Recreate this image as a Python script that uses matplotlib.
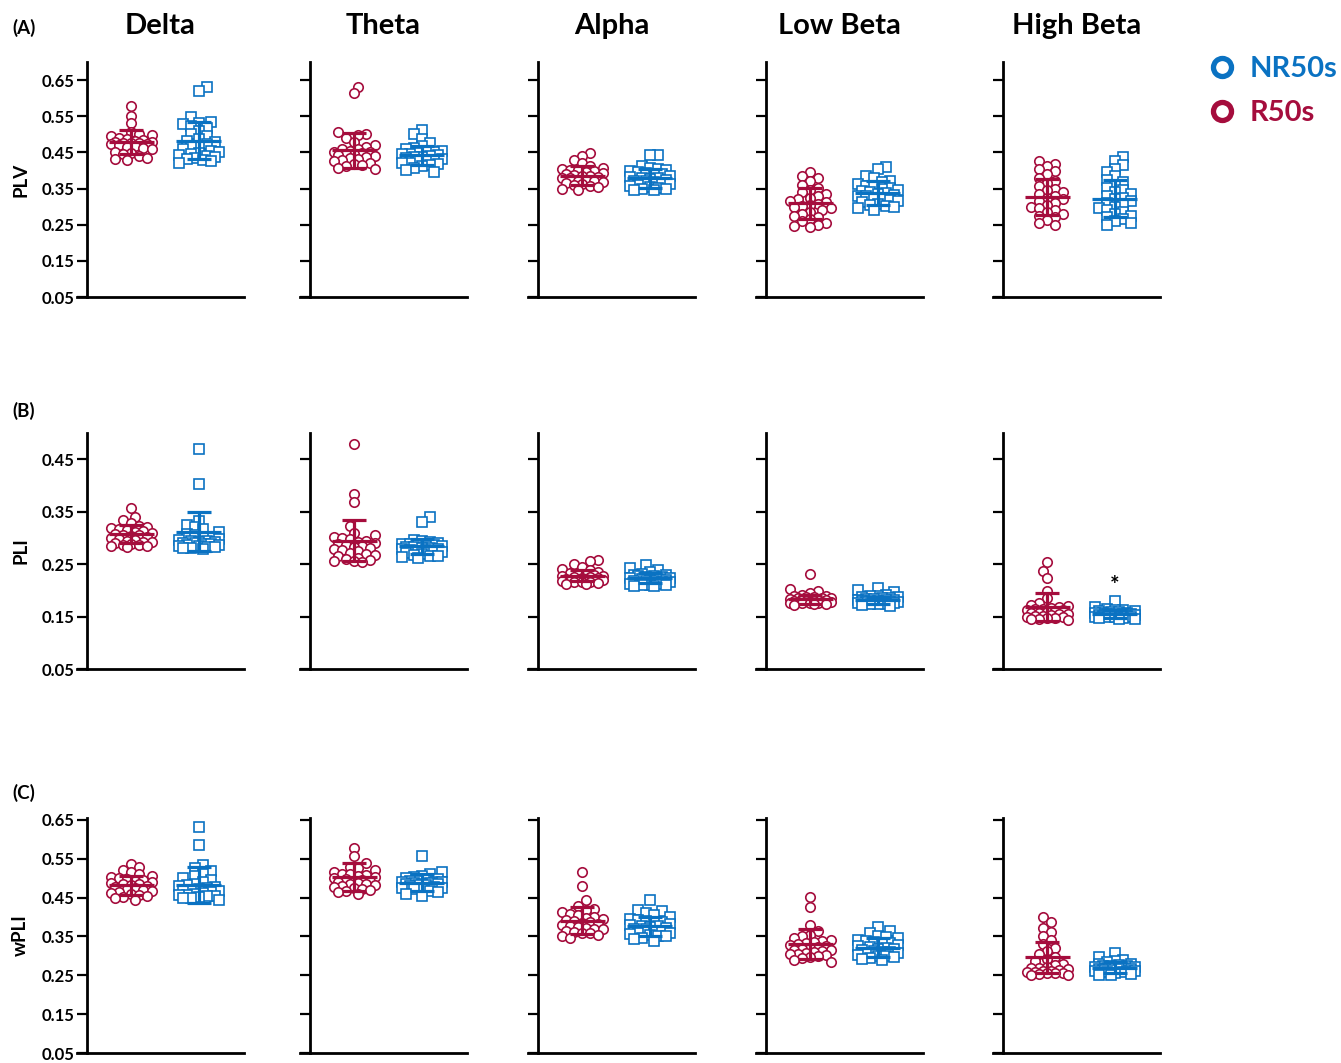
import numpy as np
import matplotlib.pyplot as plt

plt.rcParams['font.family'] = ['Lato', 'DejaVu Sans']
plt.rcParams['font.weight'] = 'bold'

bands = ["Delta", "Theta", "Alpha", "Low Beta", "High Beta"]
metrics = ["PLV", "PLI", "wPLI"]
panel_tags = ["(A)", "(B)", "(C)"]
groups = ["NR50s", "R50s"]

# ---- values (one list per band) ----
plv_r50s = [
    [0.578, 0.552, 0.530, 0.505, 0.500, 0.498, 0.495, 0.490, 0.488, 0.485, 0.482, 0.480, 0.478, 0.477, 0.476,
     0.475, 0.474, 0.472, 0.470, 0.468, 0.465, 0.462, 0.458, 0.452, 0.448, 0.445, 0.440, 0.435, 0.432, 0.430],
    [0.631, 0.613, 0.505, 0.502, 0.498, 0.490, 0.480, 0.470, 0.465, 0.460, 0.458, 0.455, 0.452, 0.450, 0.448,
     0.445, 0.445, 0.442, 0.440, 0.438, 0.435, 0.432, 0.428, 0.425, 0.420, 0.418, 0.415, 0.412, 0.408, 0.405],
    [0.449, 0.440, 0.428, 0.420, 0.412, 0.408, 0.405, 0.402, 0.400, 0.398, 0.395, 0.392, 0.390, 0.388, 0.386,
     0.385, 0.383, 0.380, 0.378, 0.375, 0.372, 0.370, 0.368, 0.365, 0.362, 0.360, 0.358, 0.355, 0.350, 0.346],
    [0.396, 0.385, 0.378, 0.370, 0.360, 0.352, 0.345, 0.340, 0.335, 0.330, 0.325, 0.320, 0.316, 0.312, 0.308,
     0.305, 0.302, 0.298, 0.295, 0.290, 0.285, 0.280, 0.275, 0.270, 0.265, 0.260, 0.255, 0.250, 0.246, 0.244],
    [0.427, 0.418, 0.412, 0.405, 0.398, 0.390, 0.380, 0.372, 0.365, 0.358, 0.350, 0.345, 0.340, 0.335, 0.330,
     0.325, 0.320, 0.315, 0.310, 0.305, 0.300, 0.295, 0.290, 0.285, 0.280, 0.275, 0.270, 0.262, 0.255, 0.248],
]
plv_nr50s = [
    [0.632, 0.620, 0.548, 0.535, 0.532, 0.528, 0.522, 0.518, 0.510, 0.502, 0.495, 0.488, 0.482, 0.478, 0.472,
     0.468, 0.465, 0.460, 0.455, 0.452, 0.448, 0.445, 0.442, 0.440, 0.438, 0.435, 0.432, 0.428, 0.425, 0.420],
    [0.513, 0.500, 0.488, 0.475, 0.468, 0.462, 0.458, 0.455, 0.452, 0.450, 0.448, 0.446, 0.445, 0.443, 0.440,
     0.438, 0.436, 0.434, 0.432, 0.430, 0.428, 0.425, 0.422, 0.420, 0.418, 0.415, 0.412, 0.408, 0.402, 0.396],
    [0.443, 0.442, 0.412, 0.408, 0.405, 0.400, 0.398, 0.395, 0.392, 0.390, 0.388, 0.385, 0.382, 0.380, 0.378,
     0.376, 0.374, 0.372, 0.370, 0.368, 0.365, 0.362, 0.360, 0.358, 0.355, 0.352, 0.350, 0.348, 0.346, 0.345],
    [0.410, 0.405, 0.385, 0.380, 0.372, 0.368, 0.362, 0.358, 0.355, 0.352, 0.348, 0.345, 0.342, 0.340, 0.338,
     0.335, 0.332, 0.330, 0.328, 0.325, 0.322, 0.318, 0.315, 0.312, 0.308, 0.305, 0.302, 0.300, 0.296, 0.292],
    [0.437, 0.425, 0.415, 0.405, 0.395, 0.385, 0.375, 0.368, 0.360, 0.352, 0.345, 0.340, 0.335, 0.330, 0.325,
     0.320, 0.315, 0.310, 0.305, 0.300, 0.295, 0.290, 0.285, 0.280, 0.275, 0.270, 0.265, 0.260, 0.255, 0.250],
]
pli_r50s = [
    [0.357, 0.340, 0.335, 0.328, 0.322, 0.320, 0.318, 0.316, 0.315, 0.313, 0.312, 0.310, 0.308, 0.306, 0.305,
     0.304, 0.302, 0.300, 0.298, 0.296, 0.295, 0.293, 0.292, 0.290, 0.288, 0.287, 0.286, 0.285, 0.284, 0.283],
    [0.479, 0.383, 0.369, 0.322, 0.310, 0.305, 0.302, 0.300, 0.298, 0.295, 0.292, 0.290, 0.288, 0.286, 0.285,
     0.283, 0.280, 0.278, 0.276, 0.275, 0.272, 0.270, 0.268, 0.265, 0.262, 0.260, 0.258, 0.256, 0.255, 0.254],
    [0.258, 0.255, 0.250, 0.245, 0.240, 0.238, 0.235, 0.233, 0.232, 0.230, 0.229, 0.228, 0.227, 0.226, 0.225,
     0.224, 0.223, 0.222, 0.221, 0.220, 0.220, 0.219, 0.218, 0.217, 0.216, 0.215, 0.215, 0.214, 0.213, 0.212],
    [0.231, 0.202, 0.198, 0.195, 0.192, 0.190, 0.189, 0.188, 0.187, 0.186, 0.185, 0.185, 0.184, 0.183, 0.182,
     0.182, 0.181, 0.180, 0.180, 0.179, 0.178, 0.178, 0.177, 0.176, 0.176, 0.175, 0.175, 0.174, 0.173, 0.172],
    [0.254, 0.236, 0.223, 0.199, 0.185, 0.175, 0.172, 0.170, 0.168, 0.166, 0.165, 0.164, 0.163, 0.162, 0.160,
     0.158, 0.157, 0.156, 0.155, 0.154, 0.153, 0.152, 0.151, 0.150, 0.149, 0.148, 0.147, 0.146, 0.145, 0.143],
]
pli_nr50s = [
    [0.470, 0.402, 0.332, 0.325, 0.320, 0.316, 0.312, 0.308, 0.305, 0.302, 0.300, 0.298, 0.296, 0.295, 0.294,
     0.293, 0.292, 0.291, 0.290, 0.289, 0.288, 0.287, 0.286, 0.285, 0.284, 0.283, 0.282, 0.281, 0.280, 0.278],
    [0.340, 0.330, 0.296, 0.294, 0.292, 0.290, 0.289, 0.288, 0.287, 0.286, 0.285, 0.284, 0.283, 0.282, 0.281,
     0.280, 0.279, 0.278, 0.277, 0.276, 0.275, 0.274, 0.273, 0.272, 0.270, 0.268, 0.266, 0.265, 0.263, 0.262],
    [0.248, 0.242, 0.238, 0.235, 0.232, 0.230, 0.229, 0.228, 0.227, 0.226, 0.225, 0.224, 0.223, 0.222, 0.221,
     0.220, 0.219, 0.218, 0.218, 0.217, 0.216, 0.215, 0.214, 0.213, 0.212, 0.211, 0.210, 0.210, 0.209, 0.208],
    [0.205, 0.200, 0.196, 0.192, 0.190, 0.189, 0.188, 0.187, 0.186, 0.185, 0.184, 0.183, 0.182, 0.182, 0.181,
     0.180, 0.180, 0.179, 0.178, 0.178, 0.177, 0.177, 0.176, 0.175, 0.175, 0.174, 0.174, 0.173, 0.172, 0.171],
    [0.180, 0.168, 0.165, 0.163, 0.162, 0.161, 0.160, 0.159, 0.158, 0.157, 0.157, 0.156, 0.155, 0.155, 0.154,
     0.154, 0.153, 0.153, 0.152, 0.152, 0.151, 0.151, 0.150, 0.150, 0.149, 0.149, 0.148, 0.147, 0.146, 0.145],
]
wpli_r50s = [
    [0.537, 0.530, 0.522, 0.515, 0.510, 0.505, 0.502, 0.500, 0.498, 0.495, 0.492, 0.490, 0.488, 0.486, 0.484,
     0.482, 0.480, 0.478, 0.475, 0.472, 0.470, 0.468, 0.465, 0.462, 0.460, 0.458, 0.455, 0.452, 0.448, 0.443],
    [0.579, 0.558, 0.540, 0.530, 0.525, 0.520, 0.515, 0.512, 0.510, 0.508, 0.505, 0.502, 0.500, 0.498, 0.496,
     0.494, 0.492, 0.490, 0.488, 0.486, 0.484, 0.482, 0.480, 0.478, 0.475, 0.472, 0.470, 0.467, 0.464, 0.460],
    [0.515, 0.480, 0.443, 0.428, 0.422, 0.418, 0.412, 0.408, 0.404, 0.400, 0.398, 0.395, 0.392, 0.390, 0.388,
     0.385, 0.382, 0.380, 0.378, 0.375, 0.372, 0.370, 0.368, 0.365, 0.362, 0.360, 0.358, 0.355, 0.350, 0.346],
    [0.451, 0.425, 0.379, 0.365, 0.355, 0.350, 0.345, 0.342, 0.338, 0.335, 0.332, 0.330, 0.328, 0.325, 0.322,
     0.320, 0.318, 0.316, 0.314, 0.312, 0.310, 0.308, 0.306, 0.304, 0.302, 0.300, 0.298, 0.295, 0.290, 0.285],
    [0.400, 0.386, 0.372, 0.362, 0.352, 0.340, 0.330, 0.320, 0.312, 0.305, 0.298, 0.292, 0.286, 0.280, 0.276,
     0.272, 0.270, 0.268, 0.266, 0.264, 0.262, 0.260, 0.259, 0.258, 0.257, 0.256, 0.255, 0.254, 0.252, 0.250],
]
wpli_nr50s = [
    [0.631, 0.586, 0.535, 0.525, 0.518, 0.510, 0.505, 0.500, 0.495, 0.490, 0.485, 0.482, 0.480, 0.478, 0.475,
     0.472, 0.470, 0.468, 0.466, 0.464, 0.462, 0.460, 0.458, 0.456, 0.455, 0.453, 0.452, 0.450, 0.448, 0.445],
    [0.558, 0.515, 0.510, 0.506, 0.503, 0.500, 0.498, 0.496, 0.494, 0.493, 0.491, 0.490, 0.489, 0.488, 0.487,
     0.486, 0.485, 0.484, 0.483, 0.482, 0.480, 0.478, 0.476, 0.475, 0.473, 0.471, 0.468, 0.465, 0.460, 0.453],
    [0.443, 0.419, 0.415, 0.410, 0.405, 0.400, 0.396, 0.392, 0.390, 0.388, 0.385, 0.383, 0.380, 0.378, 0.376,
     0.374, 0.372, 0.370, 0.368, 0.365, 0.362, 0.360, 0.358, 0.356, 0.354, 0.352, 0.350, 0.347, 0.343, 0.339],
    [0.374, 0.365, 0.358, 0.352, 0.348, 0.345, 0.342, 0.338, 0.335, 0.332, 0.330, 0.328, 0.325, 0.323, 0.321,
     0.319, 0.317, 0.315, 0.313, 0.311, 0.309, 0.307, 0.305, 0.303, 0.301, 0.299, 0.297, 0.295, 0.293, 0.290],
    [0.307, 0.298, 0.290, 0.286, 0.283, 0.280, 0.278, 0.276, 0.275, 0.274, 0.273, 0.272, 0.271, 0.270, 0.269,
     0.268, 0.267, 0.266, 0.265, 0.264, 0.263, 0.262, 0.261, 0.260, 0.259, 0.258, 0.256, 0.254, 0.252, 0.250],
]

# mean and SD bars as drawn in the figure
plv_mean_r = [0.479, 0.456, 0.385, 0.309, 0.327]
plv_sd_r = [0.033, 0.048, 0.026, 0.043, 0.049]
plv_mean_nr = [0.482, 0.442, 0.378, 0.338, 0.322]
plv_sd_nr = [0.051, 0.026, 0.027, 0.033, 0.052]
pli_mean_r = [0.308, 0.295, 0.228, 0.183, 0.168]
pli_sd_r = [0.017, 0.040, 0.011, 0.009, 0.027]
pli_mean_nr = [0.312, 0.284, 0.224, 0.181, 0.155]
pli_sd_nr = [0.037, 0.014, 0.010, 0.007, 0.007]
wpli_mean_r = [0.482, 0.503, 0.391, 0.331, 0.296]
wpli_sd_r = [0.024, 0.036, 0.034, 0.039, 0.041]
wpli_mean_nr = [0.482, 0.488, 0.376, 0.321, 0.270]
wpli_sd_nr = [0.046, 0.022, 0.025, 0.024, 0.013]

ylims = [(0.05, 0.70), (0.05, 0.50), (0.05, 0.655)]
yticks = [[0.05, 0.15, 0.25, 0.35, 0.45, 0.55, 0.65],
          [0.05, 0.15, 0.25, 0.35, 0.45],
          [0.05, 0.15, 0.25, 0.35, 0.45, 0.55, 0.65]]

red = '#A50D3D'
blue = '#0A72C2'

data = [(plv_r50s, plv_nr50s, plv_mean_r, plv_sd_r, plv_mean_nr, plv_sd_nr),
        (pli_r50s, pli_nr50s, pli_mean_r, pli_sd_r, pli_mean_nr, pli_sd_nr),
        (wpli_r50s, wpli_nr50s, wpli_mean_r, wpli_sd_r, wpli_mean_nr, wpli_sd_nr)]


def swarm(vals, ppx, ppy, d, maxw=24.0):
    # beeswarm in pixel space with a width cap (points may overlap), returns x offsets in data units
    vals = np.asarray(vals, dtype=float)
    ys = vals * ppy
    order = np.argsort(np.abs(vals - np.median(vals)))
    steps = np.arange(0, maxw + 0.01, d * 0.45)
    xs = np.zeros(len(vals))
    done = []
    for n, i in enumerate(order):
        cands = [0.0]
        for s in steps[1:]:
            cands += [s, -s] if n % 2 else [-s, s]
        best, best_d = 0.0, -1.0
        for c in cands:
            if not done:
                best = c
                break
            md = min(np.hypot(c - xs[j], ys[i] - ys[j]) for j in done)
            if md >= 0.8 * d:
                best = c
                break
            if md > best_d:
                best, best_d = c, md
        xs[i] = best
        done.append(i)
    return xs / ppx


W, H = 1341, 1063
fig = plt.figure(figsize=(W / 100, H / 100), dpi=100)

col_left = [77, 300, 528, 756, 993]
ax_w = 167
rows_px = [(62, 297), (433, 669), (818, 1053)]
tag_y = [28, 411, 793]
x_r, x_nr = 0.325, 0.73

for r in range(3):
    vals_r, vals_nr, m_r, s_r, m_nr, s_nr = data[r]
    top, bot = rows_px[r]
    for c in range(5):
        ax = fig.add_axes([col_left[c] / W, 1 - bot / H, ax_w / W, (bot - top) / H])
        ax.set_xlim(0, 1)
        ax.set_ylim(*ylims[r])
        ppx = ax_w
        ppy = (bot - top) / (ylims[r][1] - ylims[r][0])

        for vals, xc, mk, col in [(vals_r[c], x_r, 'o', red), (vals_nr[c], x_nr, 's', blue)]:
            offs = swarm(vals, ppx, ppy, 9.0)
            ax.plot(xc + offs, vals, mk, ms=6.8, mfc='white', mec=col, mew=1.2, ls='none', zorder=3)

        for xc, m, s, col in [(x_r, m_r[c], s_r[c], red), (x_nr, m_nr[c], s_nr[c], blue)]:
            ax.hlines(m, xc - 0.135, xc + 0.135, color=col, lw=2.3, zorder=4)
            ax.vlines(xc, m - s, m + s, color=col, lw=2.3, zorder=4)
            ax.hlines([m - s, m + s], xc - 0.072, xc + 0.072, color=col, lw=2.3, zorder=4)

        ax.spines['top'].set_visible(False)
        ax.spines['right'].set_visible(False)
        ax.spines['left'].set_position(('axes', 10 / ax_w))
        ax.spines['left'].set_linewidth(2.0)
        ax.spines['bottom'].set_linewidth(2.0)
        ax.set_xticks([])
        ax.set_yticks(yticks[r])
        ax.tick_params(axis='y', length=7, width=1.6, labelsize=12, pad=2)
        if c == 0:
            ax.set_yticklabels(['%.2f' % t for t in yticks[r]], fontweight='bold')
            ax.set_ylabel(metrics[r], fontsize=13.5, fontweight='bold', labelpad=9)
        else:
            ax.set_yticklabels([])
        ax.patch.set_alpha(0)

        if r == 0:
            ax.set_title(bands[c], fontsize=21, fontweight='bold', pad=20)
        if r == 1 and c == 4:
            ax.text(x_nr, 0.21, '*', ha='center', va='center', fontsize=16, fontweight='bold')

for r, tag in enumerate(panel_tags):
    fig.text(12 / W, 1 - tag_y[r] / H, tag, fontsize=13.5, fontweight='bold', va='center')

# legend
lax = fig.add_axes([0, 0, 1, 1])
lax.set_xlim(0, W)
lax.set_ylim(H, 0)
lax.axis('off')
for gy, name, col in [(67, groups[0], blue), (111, groups[1], red)]:
    lax.plot([1222], [gy], 'o', ms=13, mfc='white', mec=col, mew=3.8)
    lax.text(1250, gy + 2, name, color=col, fontsize=21, fontweight='bold', va='center')

fig.savefig('out.png', dpi=100)
